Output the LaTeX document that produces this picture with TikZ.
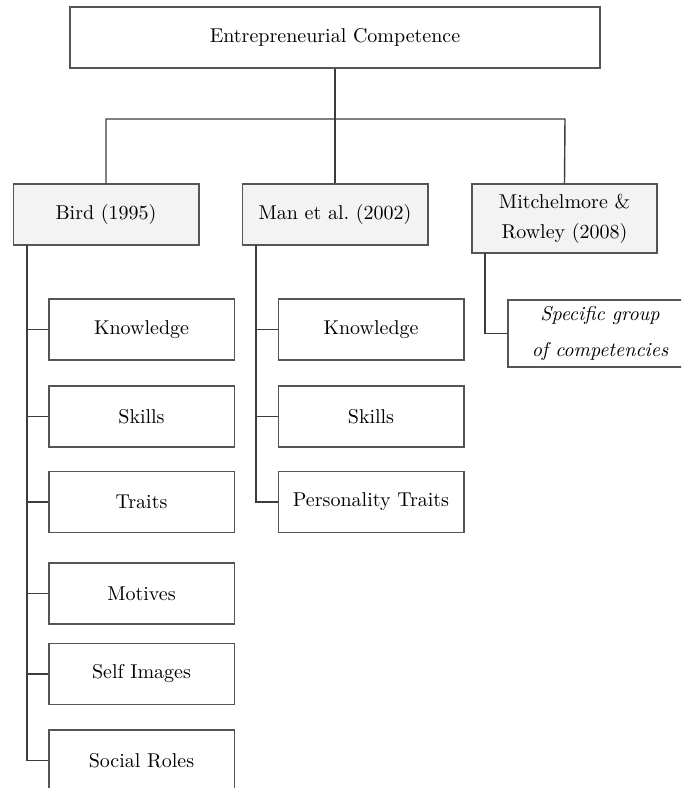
\documentclass[tikz,border=0pt]{standalone}
\definecolor{boxline}{RGB}{85,85,85}
\definecolor{connline}{RGB}{60,60,60}
\definecolor{headfill}{RGB}{243,243,243}
\begin{document}
\begin{tikzpicture}[x=0.5pt,y=-0.5pt,
  box/.style={draw=boxline, line width=0.75pt, rectangle, inner sep=0pt,
    minimum width=92.75pt, minimum height=30.5pt, align=center, font=\normalsize},
  headbox/.style={box, fill=headfill},
  conn/.style={draw=connline, line width=0.7pt}]
\useasboundingbox (0,0) rectangle (681,788);
\clip (0,0) rectangle (681,788);

% root
\node[box, minimum width=265pt] (root) at (335,37.5) {Entrepreneurial Competence};

% authors
\node[headbox] (bird) at (106,214.5) {Bird (1995)};
\node[headbox] (man) at (335,214.5) {Man et al.\ (2002)};
\node[headbox, minimum width=92.5pt, minimum height=34.5pt] (mitch) at (564.5,218.5)
  {Mitchelmore \&\\[3pt] Rowley (2008)};

% Bird (1995)
\node[box] (b1) at (141.5,329.5) {Knowledge};
\node[box] (b2) at (141.5,416.5) {Skills};
\node[box] (b3) at (141.5,502) {Traits};
\node[box] (b4) at (141.5,593.5) {Motives};
\node[box] (b5) at (141.5,674) {Self Images};
\node[box] (b6) at (141.5,760.5) {Social Roles};

% Man et al. (2002)
\node[box] (m1) at (371,329.5) {Knowledge};
\node[box] (m2) at (371,416.5) {Skills};
\node[box] (m3) at (371,502) {Personality Traits};

% Mitchelmore & Rowley (2008)
\node[box, minimum width=92pt, minimum height=33.5pt] (r1) at (600,333.5)
  {\itshape Specific group\\[6pt]\itshape of competencies};

% bus from the root to the three authors
\coordinate (busL) at (106,119);
\coordinate (busR) at (565,119);
\draw[conn] (root.south) -- (man.north);
\draw[conn] (bird.north) -- (busL) -- (busR) -- (mitch.north);

% trunks
\coordinate (birdT) at (27,245);
\coordinate (manT) at (256,245);
\coordinate (mitchT) at (485,253);

\draw[conn] (birdT) |- (b6.west);
\foreach \n in {b1,b2,b3,b4,b5}
  \draw[conn] (birdT |- \n.west) -- (\n.west);

\draw[conn] (manT) |- (m3.west);
\foreach \n in {m1,m2}
  \draw[conn] (manT |- \n.west) -- (\n.west);

\draw[conn] (mitchT) |- (r1.west);
\end{tikzpicture}
\end{document}
